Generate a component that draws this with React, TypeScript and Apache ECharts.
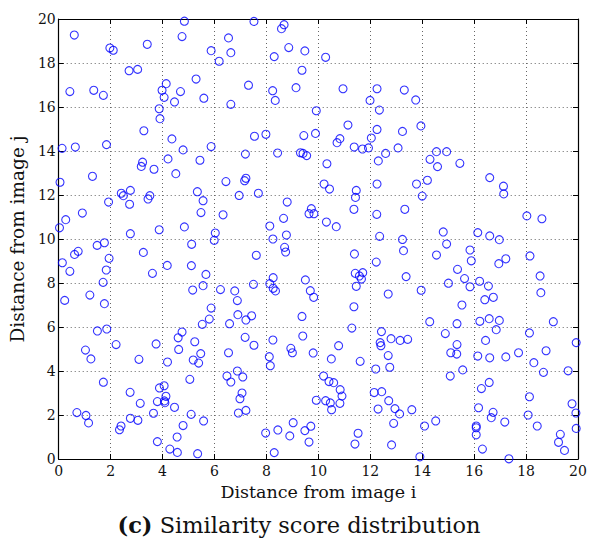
import React, { useEffect, useRef } from "react";
import * as echarts from "echarts";

// [distance from image i, distance from image j]
const upperPoints: number[][] = [
  [4.84,19.9],[0.60,19.27],[4.75,19.2],[1.97,18.68],[2.1,18.58],[3.41,18.85],[6.54,19.14],[5.87,18.56],[6.63,18.47],[6.18,18.08],
  [2.71,17.65],[3.04,17.71],[5.29,17.27],[4.14,17.06],[3.98,16.76],[4.69,16.7],[0.43,16.7],[1.35,16.76],[1.72,16.53],[4.06,16.44],
  [4.46,16.23],[5.59,16.4],[6.63,16.12],[3.87,15.92],[3.9,15.47],[3.28,14.92],[4.36,14.55],[0.13,14.12],[0.64,14.18],[1.84,14.29],
  [4.79,14.05],[5.87,14.2],[4.21,13.64],[5.44,13.58],[3.23,13.49],[3.18,13.3],[3.67,13.17],[4.51,12.97],[1.3,12.85],[0.05,12.58],[6.44,12.61],
  [7.52,19.89],[8.68,19.74],[8.58,19.56],[8.86,18.7],[9.48,18.55],[8.3,18.29],[10.28,18.26],[9.37,17.67],[7.31,16.99],[8.24,16.74],
  [9.14,16.88],[10.95,16.83],[12.26,16.83],[13.31,16.77],[8.34,16.3],[11.99,16.3],[12.35,15.86],[9.92,15.83],[11.14,15.18],[12.26,14.98],
  [13.24,14.89],[7.54,14.67],[7.98,14.76],[9.44,14.7],[9.89,14.8],[10.83,14.56],[10.72,14.38],[12.04,14.59],[11.38,14.18],[11.7,14.09],
  [11.93,14.14],[13.07,14.14],[7.19,13.86],[8.43,13.91],[9.31,13.92],[9.41,13.89],[9.55,13.79],[12.59,13.89],[12.31,13.55],[10.33,13.42],
  [7.21,12.76],[7.16,12.65],[10.22,12.5],[12.26,12.5],
  [13.75,16.32],[13.95,15.14],[14.55,13.97],[14.94,13.97],[14.3,13.62],[14.59,13.29],[15.45,13.44],[16.6,12.79],[17.13,12.4],[14.2,12.67],[13.78,12.5]
];

const middlePoints: number[][] = [
  [2.41,12.08],[2.49,11.97],[2.76,12.21],[3.51,11.97],[3.44,11.82],[1.92,11.68],[2.73,11.58],[5.34,12.15],[5.56,11.74],[5.48,11.2],
  [6.33,11.1],[0.91,11.18],[0.27,10.88],[0.03,10.51],[2.76,10.24],[3.87,10.42],[4.84,10.55],[6.03,10.27],[5.99,9.94],[5.12,9.76],
  [1.48,9.71],[1.76,9.83],[0.61,9.3],[0.75,9.44],[3.26,9.39],[1.94,9.12],[0.14,8.92],[4.18,8.8],[5.11,8.79],[0.43,8.53],
  [1.83,8.59],[3.61,8.44],[5.67,8.39],[1.71,8.03],[5.56,7.88],[5.16,7.68],[6.23,7.7],[1.2,7.45],[0.23,7.21],[1.76,7.06],
  [5.87,6.86],[5.8,6.36],[5.53,6.12],[6.58,6.15],[1.49,5.82],[1.85,5.91],[4.75,5.77],[4.6,5.51],[5.24,5.33],[2.21,5.2],
  [3.75,5.23],[1.03,4.95],[4.62,4.98],[5.47,4.79],[6.54,4.83],
  [10.43,12.27],[11.46,12.21],[11.43,11.89],[6.95,11.98],[7.69,12.08],[8.8,11.68],[9.73,11.38],[9.64,11.15],[9.83,11.15],[8.66,10.94],
  [11.37,11.35],[12.25,11.12],[8.13,10.59],[10.31,10.77],[10.69,10.56],[8.77,10.18],[8.25,10.0],[12.36,10.12],[8.7,9.62],[8.74,9.41],
  [7.61,9.26],[11.39,9.32],[12.23,8.95],[11.42,8.44],[11.58,8.32],[11.71,8.47],[11.66,8.18],[11.46,7.85],[8.26,8.24],[8.13,7.97],
  [8.26,7.76],[8.35,7.64],[9.5,8.14],[9.69,7.65],[9.82,7.35],[7.5,7.94],[6.78,7.64],[6.88,7.2],[6.9,6.56],[7.21,6.32],
  [7.43,6.51],[9.37,6.48],[12.69,7.5],[11.37,6.92],[11.29,5.95],[12.43,5.79],[12.8,5.47],[13.15,5.39],[12.38,5.29],[12.41,5.15],
  [7.18,5.53],[7.52,5.17],[8.25,5.41],[9.4,5.59],[8.94,5.03],[9.0,4.83],[9.8,4.82],[10.78,5.15],[12.69,4.7],[8.11,4.65],
  [17.14,12.05],[14.0,11.95],[13.33,11.35],[18.03,11.05],[18.61,10.92],[14.81,10.32],[16.14,10.29],[16.6,10.14],[16.97,9.97],[13.24,9.98],
  [14.94,9.77],[13.28,9.47],[15.84,9.5],[14.55,9.27],[15.89,9.01],[16.95,8.88],[17.22,9.1],[18.15,9.23],[15.36,8.62],[13.38,8.29],
  [15.63,8.2],[18.54,8.32],[15.01,7.99],[16.21,8.08],[15.84,7.83],[16.55,7.86],[13.96,7.67],[18.57,7.56],[16.74,7.35],[16.41,7.24],
  [15.53,7.0],[14.29,6.24],[15.34,6.15],[16.22,6.26],[16.58,6.38],[16.97,6.3],[19.05,6.24],[16.85,5.88],[18.13,5.73],[14.89,5.7],
  [13.44,5.44],[16.44,5.39],[19.93,5.29],[15.34,5.2]
];

const lowerPoints: number[][] = [
  [1.24,4.55],[3.09,4.53],[4.19,4.41],[5.18,4.5],[5.39,4.36],[6.48,3.77],[6.63,3.5],[1.72,3.49],[5.05,3.62],[4.06,3.33],
  [3.88,3.23],[2.75,3.03],[4.13,2.85],[3.8,2.61],[4.07,2.64],[4.09,2.56],[3.14,2.53],[4.46,2.35],[3.65,2.08],[5.1,2.03],
  [0.7,2.11],[1.05,1.98],[1.15,1.64],[2.76,1.85],[3.05,1.76],[5.58,1.73],[4.79,1.52],[2.4,1.5],[2.34,1.33],[4.56,1.0],
  [3.8,0.79],[4.28,0.45],[4.57,0.3],[5.35,0.24],
  [8.15,4.24],[10.5,4.55],[11.61,4.44],[12.75,4.17],[12.21,4.09],[6.88,4.0],[7.09,3.73],[10.2,3.77],[10.41,3.52],[10.59,3.47],
  [10.84,3.15],[10.91,2.86],[10.83,2.53],[7.06,3.0],[6.98,2.74],[9.92,2.67],[10.28,2.65],[10.46,2.55],[10.51,2.24],[6.92,2.09],
  [7.21,2.21],[12.15,3.02],[12.44,3.06],[12.71,2.65],[12.95,2.29],[13.13,2.05],[12.3,2.27],[12.9,1.62],[12.82,0.64],[9.03,1.65],
  [8.44,1.32],[7.97,1.18],[8.9,1.05],[9.48,1.29],[9.71,1.49],[9.64,0.77],[8.3,0.29],[11.53,1.17],[11.41,0.68],
  [15.1,4.83],[15.33,4.77],[16.14,4.68],[16.6,4.6],[17.22,4.64],[17.71,4.83],[18.77,4.92],[18.3,4.38],[18.67,3.94],[19.62,4.01],
  [15.56,4.05],[15.08,3.77],[16.58,3.48],[16.28,3.2],[18.13,2.83],[19.77,2.51],[19.92,2.09],[19.93,1.39],[13.6,2.24],[16.17,2.33],
  [16.73,2.12],[16.66,1.88],[18.08,2.0],[17.18,1.68],[14.52,1.73],[14.09,1.5],[16.08,1.5],[16.08,1.42],[16.08,1.1],[18.43,1.5],
  [19.32,1.12],[19.25,0.76],[19.48,0.39],[16.32,0.45],[13.91,0.1],[17.34,0.01]
];

const xAxisTitle = "Distance from image i";
const yAxisTitle = "Distance from image j";
const captionLabel = "(c)";
const captionText = "Similarity score distribution";

const FONT = "DejaVu Serif";

export default function App() {
  const ref = useRef<HTMLDivElement>(null);
  useEffect(() => {
    if (!ref.current) return;
    const chart = echarts.init(ref.current, undefined, { renderer: "svg" });
    const axisCommon = {
      type: "value" as const,
      min: 0,
      max: 20,
      interval: 2,
      axisLine: { show: true, onZero: false, lineStyle: { color: "#000", width: 1.2 } },
      axisTick: { show: true, inside: true, length: 5, lineStyle: { color: "#000", width: 1 } },
    };
    chart.setOption({
      animation: false,
      backgroundColor: "#fff",
      textStyle: { fontFamily: FONT },
      grid: { left: 56, right: 20, top: 19, bottom: 80, containLabel: false },
      xAxis: [
        {
          ...axisCommon,
          position: "bottom",
          name: xAxisTitle,
          nameLocation: "middle",
          nameGap: 21,
          nameTextStyle: { fontFamily: FONT, fontSize: 17.5, color: "#111" },
          axisLabel: { fontFamily: FONT, fontSize: 14, color: "#111", margin: 5 },
          splitLine: { show: true, lineStyle: { color: "#666", type: [1, 3], width: 1 } },
        },
        {
          ...axisCommon,
          position: "top",
          axisLabel: { show: false },
          splitLine: { show: false },
        },
      ],
      yAxis: [
        {
          ...axisCommon,
          position: "left",
          name: yAxisTitle,
          nameLocation: "middle",
          nameGap: 14,
          nameTextStyle: { fontFamily: FONT, fontSize: 18.5, color: "#111" },
          axisLabel: { fontFamily: FONT, fontSize: 14, color: "#111", margin: 3 },
          splitLine: { show: true, lineStyle: { color: "#666", type: [1, 3], width: 1 } },
        },
        {
          ...axisCommon,
          position: "right",
          axisLabel: { show: false },
          splitLine: { show: false },
        },
      ],
      graphic: [
        {
          type: "text",
          left: "center",
          top: 513,
          style: {
            text: "{b|" + captionLabel + "} " + captionText,
            fontFamily: FONT,
            fontSize: 22.5,
            fill: "#111",
            rich: {
              b: { fontFamily: FONT, fontSize: 22.5, fontWeight: "bold", fill: "#111" },
            },
          },
        },
      ],
      series: [
        {
          type: "scatter",
          xAxisIndex: 0,
          yAxisIndex: 0,
          data: [...upperPoints, ...middlePoints, ...lowerPoints],
          symbol: "circle",
          symbolSize: 8,
          itemStyle: { color: "rgba(0,0,0,0)", borderColor: "#0000ff", borderWidth: 1.1 },
          emphasis: { disabled: true },
        },
      ],
    });
    return () => chart.dispose();
  }, []);
  return (
    <div
      ref={ref}
      style={{ position: "fixed", left: 0, top: 0, width: 598, height: 539, background: "#fff" }}
    />
  );
}
